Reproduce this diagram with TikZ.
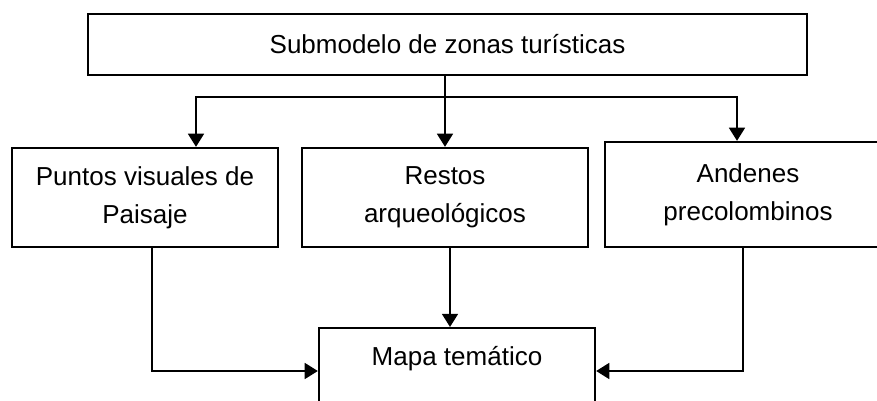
\documentclass[tikz,border=0pt]{standalone}
\usepackage{fontspec}
\setmainfont{Liberation Sans}
\usepackage{tikz}
\usetikzlibrary{arrows.meta,positioning}

\begin{document}
\begin{tikzpicture}[>={Triangle[length=7.5pt,width=9pt]}]
    \tikzstyle{modelbox} = [rectangle, draw=black, line width=1.3pt, fill=white,
                            align=center, font=\fontsize{14.8}{21.5}\selectfont]
    \tikzstyle{link} = [line width=1.3pt, black]

    \useasboundingbox (0,0) rectangle (17.54,-8.02);
    \clip (0,0) rectangle (17.54,-8.02);

    % Submodel
    \node[modelbox, minimum width=14.38cm, minimum height=1.22cm] (sub) at (8.95,-0.89) {Submodelo de zonas turísticas};

    % Layers
    \node[modelbox, minimum width=5.32cm, minimum height=1.98cm] (puntos) at (2.90,-3.95) {Puntos visuales de\\Paisaje};
    \node[modelbox, minimum width=5.72cm, minimum height=1.98cm] (restos) at (8.90,-3.95) {Restos\\arqueológicos};
    \node[modelbox, minimum width=5.72cm, minimum height=2.10cm] (andenes) at (14.96,-3.89) {Andenes\\precolombinos};

    % Result
    \node[modelbox, minimum width=5.52cm, text height=17.8pt, text depth=40pt, anchor=north] (mapa) at (9.14,-6.54) {Mapa temático};

    % Connections
    \coordinate (split) at (8.90,-1.94);
    \draw[link] (sub.south -| restos.north) -- (split);
    \draw[link, ->] (split) -- (restos.north);
    \draw[link, ->] (split) -| ([xshift=1.02cm]puntos.north);
    \draw[link, ->] (split) -| ([xshift=-0.22cm]andenes.north);

    \draw[link, ->] ([xshift=0.14cm]puntos.south) |- ([yshift=-0.88cm]mapa.north west);
    \draw[link, ->] ([xshift=0.10cm]restos.south) -- ([xshift=0.10cm]restos.south |- mapa.north);
    \draw[link, ->] ([xshift=-0.10cm]andenes.south) |- ([yshift=-0.88cm]mapa.north east);
\end{tikzpicture}
\end{document}
